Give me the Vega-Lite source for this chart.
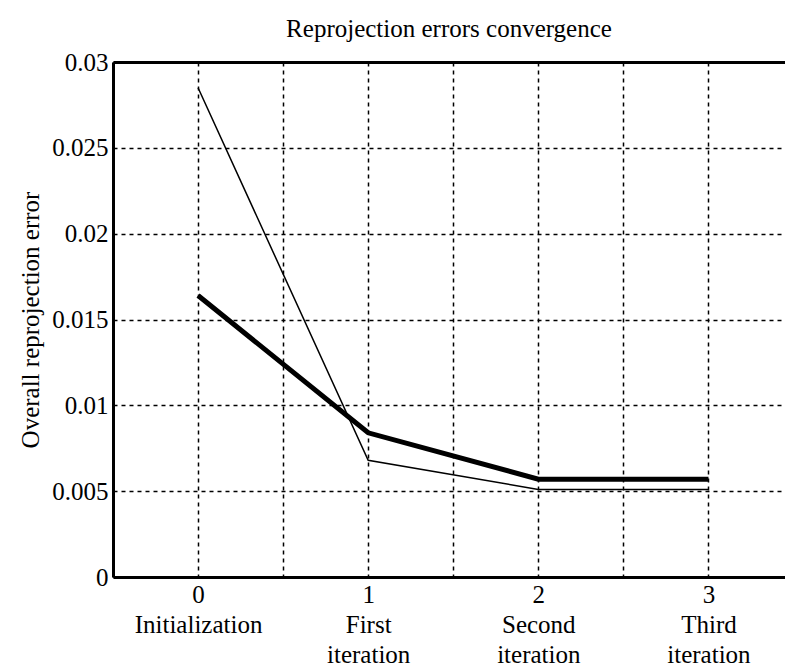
{
  "$schema": "https://vega.github.io/schema/vega-lite/v6.json",
  "autosize": "none",
  "padding": {"left": 113, "top": 62, "right": 0, "bottom": 95},
  "width": 672,
  "height": 515,
  "background": "white",
  "title": {
    "text": "Reprojection errors convergence",
    "font": "Liberation Serif",
    "fontSize": 25,
    "fontWeight": "normal",
    "color": "black",
    "offset": 8
  },
  "config": {
    "view": {"stroke": null},
    "font": "Liberation Serif"
  },
  "data": {
    "values": [
      {"iter": 0, "error": 0.0285, "series": "thin"},
      {"iter": 1, "error": 0.0068, "series": "thin"},
      {"iter": 2, "error": 0.0051, "series": "thin"},
      {"iter": 3, "error": 0.0051, "series": "thin"},
      {"iter": 0, "error": 0.0164, "series": "thick"},
      {"iter": 1, "error": 0.0084, "series": "thick"},
      {"iter": 2, "error": 0.0057, "series": "thick"},
      {"iter": 3, "error": 0.0057, "series": "thick"}
    ]
  },
  "layer": [
    {
      "mark": {"type": "line", "color": "black", "clip": true},
      "encoding": {
        "x": {
          "field": "iter",
          "type": "quantitative",
          "scale": {"domain": [-0.5, 3.45], "nice": false, "zero": false},
          "axis": {
            "orient": "bottom",
            "values": [-0.5, 0, 0.5, 1, 1.5, 2, 2.5, 3],
            "title": null,
            "grid": true,
            "gridColor": "black",
            "gridDash": [4, 4],
            "gridWidth": 1.5,
            "gridOpacity": 1,
            "domain": true,
            "domainColor": "black",
            "domainWidth": 3,
            "ticks": false,
            "labelFont": "Liberation Serif",
            "labelFontSize": 25,
            "labelColor": "black",
            "labelPadding": 5,
            "labelLineHeight": 30,
            "labelOverlap": false,
            "labelBound": false,
            "labelFlush": false,
            "labelExpr": "datum.value == 0 ? ['0', 'Initialization'] : datum.value == 1 ? ['1', 'First', 'iteration'] : datum.value == 2 ? ['2', 'Second', 'iteration'] : datum.value == 3 ? ['3', 'Third', 'iteration'] : ''"
          }
        },
        "y": {
          "field": "error",
          "type": "quantitative",
          "scale": {"domain": [0, 0.03], "nice": false, "zero": true},
          "axis": {
            "values": [0, 0.005, 0.01, 0.015, 0.02, 0.025, 0.03],
            "format": "~g",
            "title": "Overall reprojection error",
            "titleFont": "Liberation Serif",
            "titleFontSize": 25,
            "titleFontWeight": "normal",
            "titleColor": "black",
            "titlePadding": 8,
            "grid": true,
            "gridColor": "black",
            "gridDash": [4, 4],
            "gridWidth": 1.5,
            "gridOpacity": 1,
            "domain": true,
            "domainColor": "black",
            "domainWidth": 3,
            "ticks": false,
            "labelFont": "Liberation Serif",
            "labelFontSize": 25,
            "labelColor": "black",
            "labelPadding": 5
          }
        },
        "detail": {"field": "series"},
        "strokeWidth": {
          "field": "series",
          "type": "nominal",
          "scale": {"domain": ["thick", "thin"], "range": [5, 1.5]},
          "legend": null
        }
      }
    },
    {
      "mark": {"type": "rule", "opacity": 0},
      "encoding": {
        "x": {
          "datum": 0,
          "type": "quantitative",
          "axis": {
            "orient": "top",
            "title": null,
            "labels": false,
            "ticks": false,
            "grid": false,
            "domain": true,
            "domainColor": "black",
            "domainWidth": 3
          }
        }
      }
    }
  ]
}
